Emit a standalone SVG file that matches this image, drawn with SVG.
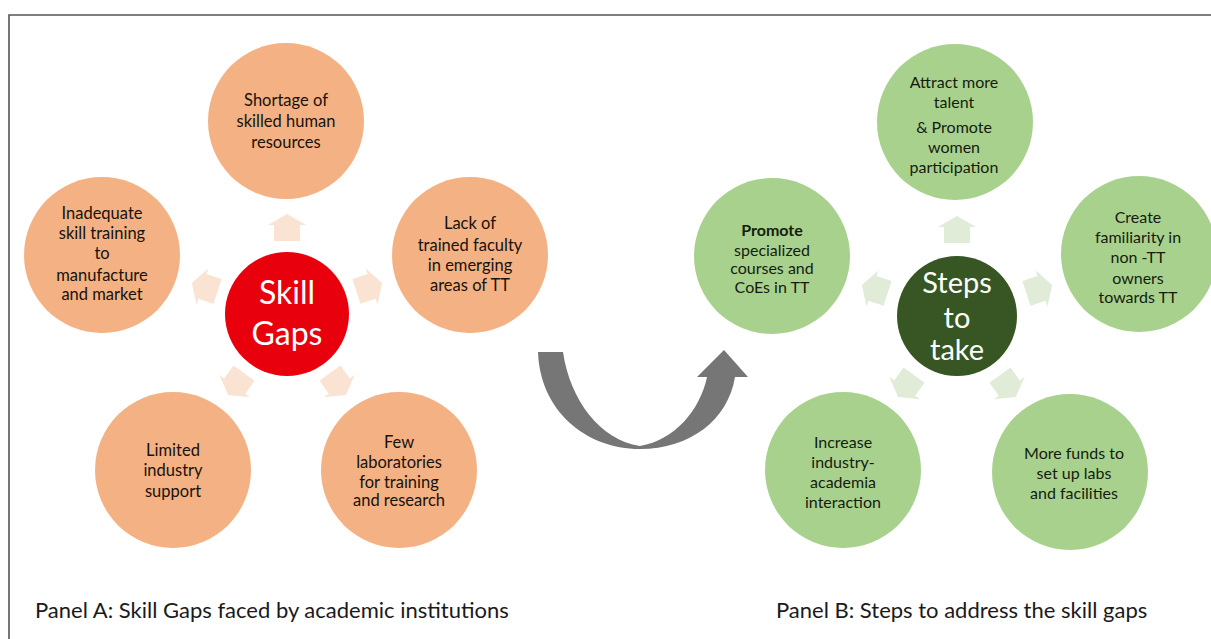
<svg xmlns="http://www.w3.org/2000/svg" width="1211" height="639" viewBox="0 0 1211 639">
<style>
  .org { fill: #f4b183; }
  .grn { fill: #a9d18e; }
  .t { font-family: Lato, "Liberation Sans", sans-serif; font-size: 16.5px; fill: #17120c; text-anchor: middle; }
  .tg { font-family: Lato, "Liberation Sans", sans-serif; font-size: 16px; fill: #141c0e; text-anchor: middle; }
  .big { font-family: Lato, "Liberation Sans", sans-serif; text-anchor: middle; fill: #ffffff; }
  .cap { font-family: Lato, "Liberation Sans", sans-serif; font-size: 22px; fill: #1a1a1a; }
  .ao { fill: #fae3d3; }
  .ag { fill: #e0ecd8; }
</style>
<defs>
  <path id="hse" d="M0,-14 L19,-3 L13,-3 L13,13 L-13,13 L-13,-3 L-19,-3 Z"/>
</defs>
<rect x="0" y="0" width="1211" height="639" fill="#ffffff"/>
<path d="M9,639 L9,15 L1211,15" fill="none" stroke="#555555" stroke-width="1.6"/>

<g id="connectors">
  <use href="#hse" class="ao" transform="translate(287,228)"/>
  <use href="#hse" class="ao" transform="translate(368.8,287.4) rotate(72)"/>
  <use href="#hse" class="ao" transform="translate(337.6,383.6) rotate(144)"/>
  <use href="#hse" class="ao" transform="translate(236.4,383.6) rotate(216)"/>
  <use href="#hse" class="ao" transform="translate(205.2,287.4) rotate(288)"/>
  <use href="#hse" class="ag" transform="translate(957,230)"/>
  <use href="#hse" class="ag" transform="translate(1038.8,289.4) rotate(72)"/>
  <use href="#hse" class="ag" transform="translate(1007.6,385.6) rotate(144)"/>
  <use href="#hse" class="ag" transform="translate(906.4,385.6) rotate(216)"/>
  <use href="#hse" class="ag" transform="translate(875.2,289.4) rotate(288)"/>
  <path id="uturn" d="M538,352 L563,352 C570,400 600,440 640,446 C675,440 700,410 707,377 L697,377 L724,350 L748,377 L735,377 C728,420 690,449 640,449 C585,449 540,410 538,352 Z" fill="#767676"/>
</g>

<g id="skill-gaps">
  <circle cx="287" cy="314" r="62" fill="#e8000d"/>
  <text class="big" font-size="32" x="287" y="304">Skill</text>
  <text class="big" font-size="32" x="287" y="345">Gaps</text>
</g>
<g id="shortage">
  <circle class="org" cx="286" cy="121" r="78"/>
  <text class="t" x="286" y="106">Shortage of</text>
  <text class="t" x="286" y="127">skilled human</text>
  <text class="t" x="286" y="148">resources</text>
</g>
<g id="lack-faculty">
  <circle class="org" cx="470" cy="255" r="78"/>
  <text class="t" x="470" y="229">Lack of</text>
  <text class="t" x="470" y="251">trained faculty</text>
  <text class="t" x="470" y="271">in emerging</text>
  <text class="t" x="470" y="291">areas of TT</text>
</g>
<g id="inadequate">
  <circle class="org" cx="102" cy="255" r="78"/>
  <text class="t" x="102" y="219">Inadequate</text>
  <text class="t" x="102" y="239">skill training</text>
  <text class="t" x="102" y="259">to</text>
  <text class="t" x="102" y="281">manufacture</text>
  <text class="t" x="102" y="300">and market</text>
</g>
<g id="limited-industry">
  <circle class="org" cx="173" cy="470" r="78"/>
  <text class="t" x="173" y="456">Limited</text>
  <text class="t" x="173" y="476">industry</text>
  <text class="t" x="173" y="497">support</text>
</g>
<g id="few-labs">
  <circle class="org" cx="399" cy="470" r="78"/>
  <text class="t" x="399" y="448">Few</text>
  <text class="t" x="399" y="468">laboratories</text>
  <text class="t" x="399" y="488">for training</text>
  <text class="t" x="399" y="506">and research</text>
</g>

<g id="steps">
  <circle cx="957" cy="316" r="60" fill="#375623"/>
  <text class="big" font-size="29" x="957" y="293" fill="#eef3ea">Steps</text>
  <text class="big" font-size="29" x="957" y="328" fill="#eef3ea">to</text>
  <text class="big" font-size="29" x="957" y="360" fill="#eef3ea">take</text>
</g>
<g id="attract">
  <circle class="grn" cx="955" cy="122" r="78"/>
  <text class="tg" x="954" y="88" font-size="15">Attract more</text>
  <text class="tg" x="954" y="108" font-size="15">talent</text>
  <text class="tg" x="954" y="133" font-size="15">&amp; Promote</text>
  <text class="tg" x="954" y="153" font-size="15">women</text>
  <text class="tg" x="954" y="173" font-size="15">participation</text>
</g>
<g id="promote-courses">
  <circle class="grn" cx="772" cy="256" r="78"/>
  <text class="tg" x="772" y="236" font-size="16.5" font-weight="bold">Promote</text>
  <text class="tg" x="772" y="256">specialized</text>
  <text class="tg" x="772" y="274">courses and</text>
  <text class="tg" x="772" y="293">CoEs in TT</text>
</g>
<g id="familiarity">
  <circle class="grn" cx="1139" cy="254" r="78"/>
  <text class="tg" x="1138" y="223">Create</text>
  <text class="tg" x="1138" y="243">familiarity in</text>
  <text class="tg" x="1138" y="263">non -TT</text>
  <text class="tg" x="1138" y="284">owners</text>
  <text class="tg" x="1138" y="303">towards TT</text>
</g>
<g id="industry-academia">
  <circle class="grn" cx="843" cy="470" r="78"/>
  <text class="tg" x="843" y="448">Increase</text>
  <text class="tg" x="843" y="468">industry-</text>
  <text class="tg" x="843" y="488">academia</text>
  <text class="tg" x="843" y="508">interaction</text>
</g>
<g id="more-funds">
  <circle class="grn" cx="1070" cy="472" r="78"/>
  <text class="tg" x="1074" y="459">More funds to</text>
  <text class="tg" x="1074" y="479">set up labs</text>
  <text class="tg" x="1074" y="499">and facilities</text>
</g>

<g id="captions">
  <text class="cap" x="35" y="618">Panel A: Skill Gaps faced by academic institutions</text>
  <text class="cap" x="776" y="618">Panel B: Steps to address the skill gaps</text>
</g>
</svg>
